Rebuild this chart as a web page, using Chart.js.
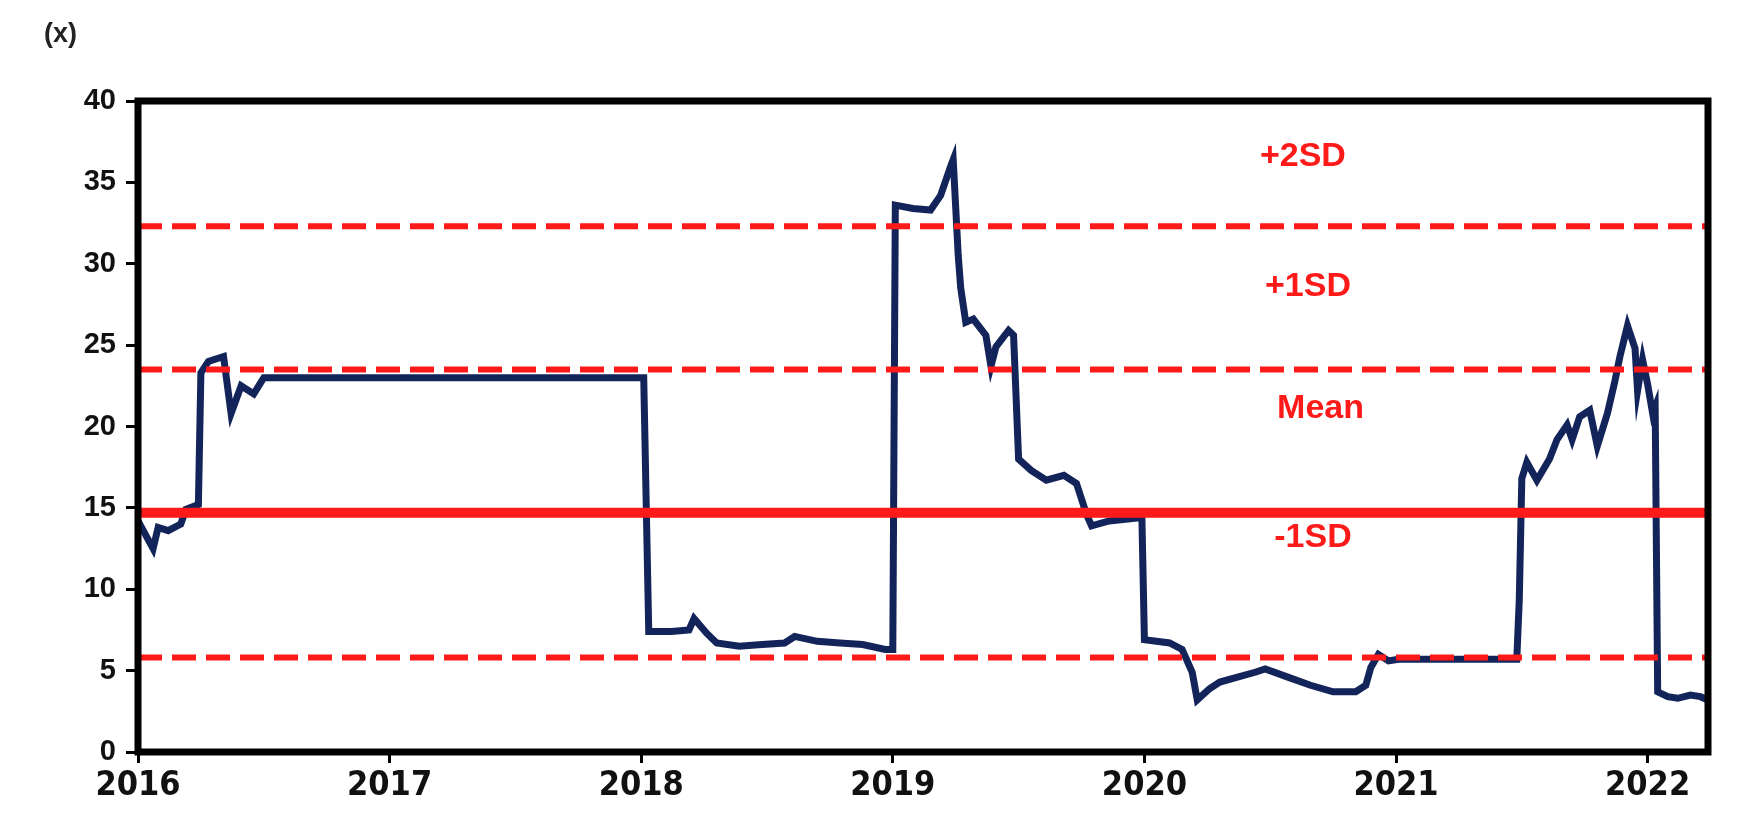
<!DOCTYPE html>
<html>
<head>
<meta charset="utf-8">
<script src="https://cdn.jsdelivr.net/npm/chart.js@4.4.1/dist/chart.umd.min.js"></script>
<style>
  html, body { margin: 0; padding: 0; background: #fff; }
  #wrap { position: relative; width: 1755px; height: 814px; }
  #unit { position: absolute; left: 44px; top: 18px; font: bold 27px 'Liberation Sans', sans-serif; color: #222; }
</style>
</head>
<body>
<div id="wrap">
  <canvas id="chart" width="1755" height="814"></canvas>
  <div id="unit">(x)</div>
</div>
<script>
// decimal year of each reading
const years = [
  2016.00, 2016.06, 2016.08, 2016.12, 2016.17, 2016.19, 2016.24, 2016.25, 2016.28, 2016.34,
  2016.37, 2016.41, 2016.46, 2016.50, 2017.00, 2017.50, 2018.00, 2018.01,
  2018.03, 2018.12, 2018.19, 2018.21, 2018.26, 2018.30, 2018.39, 2018.48, 2018.57, 2018.61,
  2018.70, 2018.79, 2018.88, 2018.97, 2019.00,
  2019.01, 2019.08, 2019.15, 2019.19, 2019.23, 2019.24, 2019.26, 2019.27, 2019.29, 2019.32,
  2019.37, 2019.39, 2019.41, 2019.46, 2019.48, 2019.50, 2019.55, 2019.61, 2019.68, 2019.73,
  2019.77, 2019.79, 2019.86, 2019.99,
  2020.00, 2020.10, 2020.15, 2020.19, 2020.21, 2020.26, 2020.30, 2020.37, 2020.44, 2020.48,
  2020.57, 2020.66, 2020.75, 2020.84, 2020.88, 2020.90, 2020.93, 2020.97, 2021.01, 2021.48,
  2021.49, 2021.50, 2021.52, 2021.56, 2021.61, 2021.64, 2021.68, 2021.70, 2021.73, 2021.77,
  2021.80, 2021.84, 2021.87, 2021.89, 2021.92, 2021.95, 2021.96, 2021.98, 2022.00, 2022.02,
  2022.03, 2022.04, 2022.08, 2022.12, 2022.17, 2022.21, 2022.24
];
const multiple = [
  14.2, 12.5, 13.8, 13.6, 14.0, 14.9, 15.2, 23.3, 24.0, 24.3,
  20.8, 22.5, 22.0, 23.0, 23.0, 23.0, 23.0, 23.0,
  7.4, 7.4, 7.5, 8.2, 7.3, 6.7, 6.5, 6.6, 6.7, 7.1,
  6.8, 6.7, 6.6, 6.3, 6.3,
  33.6, 33.4, 33.3, 34.2, 36.0, 36.4, 30.5, 28.5, 26.4, 26.6,
  25.6, 23.7, 24.9, 25.9, 25.6, 18.0, 17.3, 16.7, 17.0, 16.5,
  14.6, 13.9, 14.2, 14.4,
  6.9, 6.7, 6.3, 4.9, 3.2, 3.9, 4.3, 4.6, 4.9, 5.1,
  4.6, 4.1, 3.7, 3.7, 4.1, 5.2, 6.0, 5.6, 5.7, 5.7,
  9.4, 16.8, 17.8, 16.7, 18.0, 19.2, 20.1, 19.2, 20.6, 21.0,
  18.8, 20.8, 22.8, 24.3, 26.2, 24.8, 22.2, 24.1, 22.6, 20.8,
  21.2, 3.7, 3.4, 3.3, 3.5, 3.4, 3.2
];

const bandNames = ['+2SD', '+1SD', 'Mean', '-1SD'];
const bandValues = [32.3, 23.5, 14.7, 5.8];
const yearTicks = [2016, 2017, 2018, 2019, 2020, 2021, 2022];
const yTicks = [0, 5, 10, 15, 20, 25, 30, 35, 40];

const xMin = 2016, xMax = 2022.24;

// where the red band names sit (value space)
const bandTextPos = [
  { x: 2020.63, y: 36.6 },
  { x: 2020.65, y: 28.6 },
  { x: 2020.70, y: 21.1 },
  { x: 2020.67, y: 13.2 }
];

const bandSets = bandValues.map((v, i) => ({
  label: bandNames[i],
  data: [{ x: xMin, y: v }, { x: xMax, y: v }],
  borderColor: '#ff1a1a',
  borderWidth: bandNames[i] === 'Mean' ? 10 : 6,
  borderDash: bandNames[i] === 'Mean' ? [] : [24, 10],
  pointRadius: 0,
  order: 0
}));

const frameAndText = {
  id: 'frameAndText',
  afterDatasetsDraw(chart) {
    const { ctx, chartArea: a, scales } = chart;
    ctx.save();
    ctx.strokeStyle = '#000';
    ctx.lineWidth = 7;
    ctx.strokeRect(a.left, a.top, a.right - a.left, a.bottom - a.top);
    ctx.fillStyle = '#ff1a1a';
    ctx.font = "bold 34px 'Liberation Sans', sans-serif";
    ctx.textAlign = 'center';
    ctx.textBaseline = 'middle';
    bandNames.forEach((n, i) => {
      ctx.fillText(n, scales.x.getPixelForValue(bandTextPos[i].x), scales.y.getPixelForValue(bandTextPos[i].y));
    });
    ctx.restore();
  }
};

new Chart(document.getElementById('chart'), {
  type: 'line',
  data: {
    datasets: [
      ...bandSets,
      {
        label: 'multiple',
        data: years.map((t, i) => ({ x: t, y: multiple[i] })),
        borderColor: '#13245a',
        borderWidth: 7,
        pointRadius: 0,
        tension: 0,
        order: 1
      }
    ]
  },
  options: {
    responsive: false,
    animation: false,
    devicePixelRatio: 1,
    layout: { padding: { top: 101, right: 47, left: 0, bottom: 0 } },
    plugins: { legend: { display: false }, tooltip: { enabled: false } },
    scales: {
      x: {
        type: 'linear',
        min: xMin,
        max: xMax,
        afterBuildTicks: s => { s.ticks = yearTicks.map(v => ({ value: v })); },
        afterFit: s => { s.height = 62; },
        ticks: {
          autoSkip: false,
          maxRotation: 0,
          padding: 3,
          color: '#111',
          font: { family: "'Liberation Sans Narrow', 'DejaVu Sans Condensed', sans-serif", size: 34, weight: 'bold' },
          callback: v => String(v)
        },
        grid: { drawOnChartArea: false, drawTicks: true, tickLength: 11, tickWidth: 3, tickColor: '#000' },
        border: { display: false }
      },
      y: {
        min: 0,
        max: 40,
        afterBuildTicks: s => { s.ticks = yTicks.map(v => ({ value: v })); },
        afterFit: s => { s.width = 138; },
        ticks: {
          padding: 10,
          color: '#111',
          font: { family: "'Liberation Sans', sans-serif", size: 29, weight: 'bold' }
        },
        grid: { drawOnChartArea: false, drawTicks: true, tickLength: 12, tickWidth: 3, tickColor: '#000' },
        border: { display: false }
      }
    }
  },
  plugins: [frameAndText]
});
</script>
</body>
</html>
